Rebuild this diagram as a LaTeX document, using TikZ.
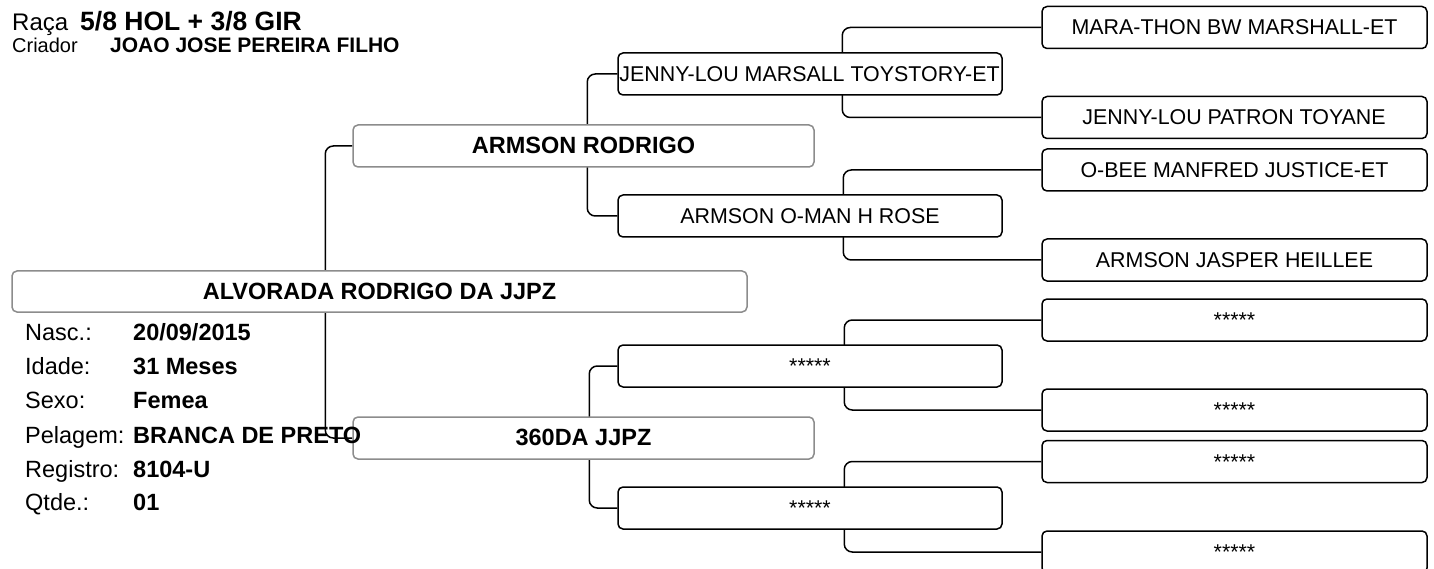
\documentclass[tikz,border=0pt]{standalone}
\usepackage{fontspec}
\setmainfont{Liberation Sans}
\usetikzlibrary{backgrounds}
\definecolor{framegray}{gray}{0.55}

\begin{document}
\begin{tikzpicture}[x=1pt, y=-1pt, every node/.style={inner sep=0pt, text height=17pt, text depth=2pt},
  box/.style={draw, fill=white, rounded corners=5pt, line width=1.5pt, minimum width=384pt, minimum height=42pt, font=\fontsize{21.4}{25}\selectfont},
  bigbox/.style={box, draw=framegray, minimum width=461pt, font=\bfseries\fontsize{23.5}{28}\selectfont},
  link/.style={line width=1.5pt, rounded corners=8pt},
  info/.style={anchor=base west, font=\fontsize{23.5}{28}\selectfont},
  infoval/.style={info, font=\bfseries\fontsize{23.5}{28}\selectfont}]
  \useasboundingbox (0,0) rectangle (1434,569);
  % animal and parents
  \node[bigbox, minimum width=735pt, minimum height=41pt] (animal) at (379.5,291.5) {ALVORADA RODRIGO DA JJPZ};
  \node[bigbox] (sire) at (583.5,146) {ARMSON RODRIGO};
  \node[bigbox] (dam) at (583.5,438) {360DA JJPZ};
  % grandparents
  \node[box] (ss) at (810,74) {};
  \node[box] (sd) at (810,216) {ARMSON O-MAN H ROSE};
  \node[box] (ds) at (810,366) {*****};
  \node[box] (dd) at (810,508) {*****};
  % great-grandparents
  \node[box, minimum width=385pt] (sss) at (1234.5,27.5) {MARA-THON BW MARSHALL-ET};
  \node[box, minimum width=385pt] (ssd) at (1234.5,117.5) {};
  \node[box, minimum width=385pt] (sds) at (1234.5,170) {O-BEE MANFRED JUSTICE-ET};
  \node[box, minimum width=385pt] (sdd) at (1234.5,260) {ARMSON JASPER HEILLEE};
  \node[box, minimum width=385pt] (dss) at (1234.5,320) {*****};
  \node[box, minimum width=385pt] (dsd) at (1234.5,410) {*****};
  \node[box, minimum width=385pt] (dds) at (1234.5,461.5) {*****};
  \node[box, minimum width=385pt] (ddd) at (1234.5,552) {*****};
  % names too long for their box
  \begin{scope}
    \clip ([xshift=2pt]ss.north west) rectangle ([xshift=-2pt]ss.south east);
    \node[font=\fontsize{21.4}{25}\selectfont, anchor=west] (ssname) at ([xshift=2pt]ss.west) {JENNY-LOU MARSALL TOYSTORY-ET};
  \end{scope}
  \begin{scope}
    \clip ([xshift=41pt]ssd.north west) rectangle ([xshift=-39pt]ssd.south east);
    \node[font=\fontsize{21.4}{25}\selectfont, anchor=west] (ssdname) at ([xshift=41pt]ssd.west) {JENNY-LOU PATRON TOYANE};
  \end{scope}
  % connectors
  \begin{scope}[on background layer]
    \draw[link] (sire.west) -- ++(-27,0) |- (dam.west);
    \draw[link] (ss.west) -- ++(-30,0) |- (sd.west);
    \draw[link] (ds.west) -- ++(-28,0) |- (dd.west);
    \draw[link] (sss.west) -- ++(-199,0) |- (ssd.west);
    \draw[link] (sds.west) -- ++(-198,0) |- (sdd.west);
    \draw[link] (dss.west) -- ++(-197,0) |- (dsd.west);
    \draw[link] (dds.west) -- ++(-197,0) |- (ddd.west);
  \end{scope}
  % header
  \node[anchor=base west, font=\fontsize{24}{28}\selectfont] (racalbl) at (12,31) {Raça};
  \node[anchor=base west, font=\bfseries\fontsize{26.5}{30}\selectfont] (raca) at (80,31) {5/8 HOL + 3/8 GIR};
  \node[anchor=base west, font=\fontsize{20}{24}\selectfont] (criadorlbl) at (12,53) {Criador};
  \node[anchor=base west, font=\bfseries\fontsize{21}{24}\selectfont] (criador) at (110,53) {JOAO JOSE PEREIRA FILHO};
  % animal data
  \node[info] (nasclbl) at (25,340) {Nasc.:};
  \node[infoval] (nasc) at (133,340) {20/09/2015};
  \node[info] (idadelbl) at (25,374) {Idade:};
  \node[infoval] (idade) at (133,374) {31 Meses};
  \node[info] (sexolbl) at (25,408) {Sexo:};
  \node[infoval] (sexo) at (133,408) {Femea};
  \node[info] (pelagemlbl) at (25,443) {Pelagem:};
  \node[infoval] (pelagem) at (133,443) {BRANCA DE PRETO};
  \node[info] (registrolbl) at (25,477) {Registro:};
  \node[infoval] (registro) at (133,477) {8104-U};
  \node[info] (qtdelbl) at (25,510) {Qtde.:};
  \node[infoval] (qtde) at (133,510) {01};
\end{tikzpicture}
\end{document}
